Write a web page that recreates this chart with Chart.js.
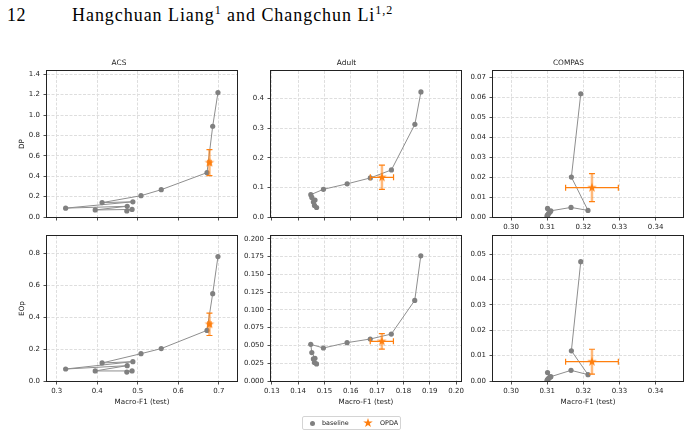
<!DOCTYPE html>
<html>
<head>
<meta charset="utf-8">
<script src="https://cdn.jsdelivr.net/npm/chart.js@4.4.0/dist/chart.umd.min.js"></script>
<style>
    body { margin: 0; background: #fff; width: 691px; height: 435px; position: relative; overflow: hidden; font-family: "DejaVu Sans", sans-serif; }
    canvas { position: absolute; }
    .head { position: absolute; top: 6px; font-family: "Liberation Serif", serif; font-size: 18px; line-height: 18px; color: #000; white-space: nowrap; }
    .head sup { font-size: 12px; line-height: 0; }
    #legend { position: absolute; left: 302px; top: 416px; width: 97px; height: 12px; border: 1px solid #d4d4d4; border-radius: 2px; font-size: 6.4px; color: #222; }
    #legend span, #legend svg { position: absolute; }
    #legend .dot { left: 7px; top: 4px; width: 5px; height: 5px; border-radius: 50%; background: #808080; }
    #legend .lbl { top: 2px; line-height: 8px; }
</style>
</head>
<body>
<div class="head" style="left:7px;letter-spacing:0.5px">12</div>
<div class="head" style="left:72px;letter-spacing:0.95px">Hangchuan Liang<sup>1</sup> and Changchun Li<sup>1,2</sup></div>

<canvas id="acsDP" width="242" height="175" style="left:0px;top:56px"></canvas>
<canvas id="adultDP" width="235" height="175" style="left:231px;top:56px"></canvas>
<canvas id="compasDP" width="235" height="175" style="left:453px;top:56px"></canvas>
<canvas id="acsEOp" width="242" height="190" style="left:0px;top:221px"></canvas>
<canvas id="adultEOp" width="235" height="190" style="left:231px;top:221px"></canvas>
<canvas id="compasEOp" width="235" height="190" style="left:453px;top:221px"></canvas>

<div id="legend">
    <span class="dot"></span><span class="lbl" style="left:19px">baseline</span>
    <svg width="10" height="10" style="left:60px;top:1px" viewBox="-5 -5 10 10"><polygon fill="#ff7f0e" points="0,-5 1.12,-1.54 4.76,-1.55 1.81,0.59 2.94,4.05 0,1.9 -2.94,4.05 -1.81,0.59 -4.76,-1.55 -1.12,-1.54"/></svg>
    <span class="lbl" style="left:77px">OPDA</span>
</div>

<script>
// baseline sweeps (Macro-F1 vs. fairness gap)
const acsF1 = [0.698, 0.685, 0.671, 0.558, 0.508, 0.412, 0.488, 0.322, 0.474, 0.395, 0.486, 0.473];
const acsDP = [1.22, 0.89, 0.435, 0.268, 0.209, 0.141, 0.149, 0.087, 0.105, 0.069, 0.074, 0.059];
const acsEOp = [0.779, 0.547, 0.317, 0.203, 0.171, 0.113, 0.121, 0.075, 0.096, 0.063, 0.063, 0.056];

const adultF1 = [0.1866, 0.1843, 0.1754, 0.1674, 0.1586, 0.1496, 0.1448, 0.1452, 0.1464, 0.1458, 0.1462, 0.1470];
const adultDP = [0.4225, 0.313, 0.159, 0.132, 0.112, 0.0935, 0.0755, 0.066, 0.057, 0.051, 0.039, 0.032];
const adultEOp = [0.176, 0.1133, 0.066, 0.059, 0.0539, 0.0464, 0.0515, 0.040, 0.032, 0.031, 0.026, 0.024];

const compasF1 = [0.3193, 0.3167, 0.3213, 0.3166, 0.3110, 0.3101, 0.3108, 0.3104, 0.3102, 0.3100, 0.3101, 0.3100];
const compasDP = [0.0618, 0.0200, 0.0033, 0.0048, 0.0031, 0.0043, 0.0025, 0.0018, 0.0012, 0.0008, 0.0004, 0.0002];
const compasEOp = [0.0470, 0.0119, 0.0025, 0.0042, 0.0017, 0.0033, 0.0015, 0.0010, 0.0007, 0.0004, 0.0002, 0.0001];

// OPDA (mean +- std), order: ACS, Adult, COMPAS
const opdaF1 = [0.677, 0.1718, 0.3224];
const opdaF1Err = [0.004, 0.0044, 0.0073];
const opdaDP = [0.533, 0.134, 0.0147];
const opdaDPErr = [0.127, 0.041, 0.007];
const opdaEOp = [0.355, 0.0557, 0.0076];
const opdaEOpErr = [0.07, 0.0108, 0.0049];

// tick labels
const acsXTicks = [0.3, 0.4, 0.5, 0.6, 0.7];
const adultXTicks = [0.13, 0.14, 0.15, 0.16, 0.17, 0.18, 0.19, 0.20];
const compasXTicks = [0.30, 0.31, 0.32, 0.33, 0.34];
const acsDPTicks = [0, 0.2, 0.4, 0.6, 0.8, 1.0, 1.2, 1.4];
const adultDPTicks = [0, 0.1, 0.2, 0.3, 0.4];
const compasDPTicks = [0, 0.01, 0.02, 0.03, 0.04, 0.05, 0.06, 0.07];
const acsEOpTicks = [0, 0.2, 0.4, 0.6, 0.8];
const adultEOpTicks = [0, 0.025, 0.05, 0.075, 0.1, 0.125, 0.15, 0.175, 0.2];
const compasEOpTicks = [0, 0.01, 0.02, 0.03, 0.04, 0.05];

Chart.defaults.font.family = 'DejaVu Sans';
Chart.defaults.font.size = 7;
Chart.defaults.color = '#222';

const ORANGE = '#ff7f0e';

function starImage(r) {
    const c = document.createElement('canvas');
    const size = Math.ceil(r * 2) + 2;
    c.width = c.height = size;
    const g = c.getContext('2d');
    g.fillStyle = ORANGE;
    g.beginPath();
    for (let i = 0; i < 10; i++) {
        const rad = i % 2 ? r * 0.38 : r;
        const a = -Math.PI / 2 + i * Math.PI / 5;
        g.lineTo(size / 2 + rad * Math.cos(a), size / 2 + rad * Math.sin(a));
    }
    g.closePath();
    g.fill();
    return c;
}
const star = starImage(5);

// black frame round the plot area
const framePlugin = {
    id: 'frame',
    afterDraw(chart) {
        const a = chart.chartArea;
        const ctx = chart.ctx;
        ctx.save();
        ctx.strokeStyle = '#222';
        ctx.lineWidth = 1;
        ctx.strokeRect(Math.round(a.left) - 0.5, Math.round(a.top) - 0.5,
            Math.round(a.right - a.left) + 1, Math.round(a.bottom - a.top) + 1);
        ctx.restore();
    }
};

// x / y error bars for the OPDA point
const errorBarPlugin = {
    id: 'errorBars',
    beforeDatasetDraw(chart, args) {
        const ds = chart.data.datasets[args.index];
        if (ds.xErr === undefined) return;
        const xs = chart.scales.x, ys = chart.scales.y, ctx = chart.ctx;
        const p = ds.data[0];
        const cx = xs.getPixelForValue(p.x), cy = ys.getPixelForValue(p.y);
        const xl = xs.getPixelForValue(p.x - ds.xErr), xr = xs.getPixelForValue(p.x + ds.xErr);
        const yt = ys.getPixelForValue(p.y + ds.yErr), yb = ys.getPixelForValue(p.y - ds.yErr);
        const cap = 3;
        ctx.save();
        ctx.lineCap = 'butt';
        // vertical
        ctx.strokeStyle = 'rgba(255,127,14,0.55)';
        ctx.lineWidth = 2.5;
        ctx.beginPath(); ctx.moveTo(cx, yt); ctx.lineTo(cx, yb); ctx.stroke();
        ctx.strokeStyle = ORANGE;
        ctx.lineWidth = 1.2;
        ctx.beginPath();
        ctx.moveTo(cx - cap, yt); ctx.lineTo(cx + cap, yt);
        ctx.moveTo(cx - cap, yb); ctx.lineTo(cx + cap, yb);
        // horizontal
        ctx.moveTo(xl, cy); ctx.lineTo(xr, cy);
        ctx.moveTo(xl, cy - cap); ctx.lineTo(xl, cy + cap);
        ctx.moveTo(xr, cy - cap); ctx.lineTo(xr, cy + cap);
        ctx.stroke();
        ctx.restore();
    }
};

function makePanel(id, cfg) {
    const pts = cfg.f1.map((v, i) => ({ x: v, y: cfg.gap[i] }));
    const bottomRow = cfg.row === 2;
    new Chart(document.getElementById(id), {
        type: 'scatter',
        data: {
            datasets: [{
                label: 'baseline',
                data: pts,
                showLine: true,
                borderColor: '#8e8e8e',
                borderWidth: 1,
                pointRadius: 2.6,
                pointBackgroundColor: '#808080',
                pointBorderWidth: 0,
                order: 2
            }, {
                label: 'OPDA',
                data: [{ x: cfg.opX, y: cfg.opY }],
                xErr: cfg.opXErr,
                yErr: cfg.opYErr,
                pointStyle: star,
                order: 1
            }]
        },
        options: {
            responsive: false,
            devicePixelRatio: 1,
            animation: false,
            layout: { padding: { left: 0, right: 4, top: bottomRow ? 15 : 0, bottom: 0 } },
            plugins: {
                legend: { display: false },
                tooltip: { enabled: false },
                title: {
                    display: !!cfg.title,
                    text: cfg.title,
                    color: '#222',
                    font: { size: 7.4, weight: 'normal', lineHeight: '10px' },
                    padding: { top: 2, bottom: 3 }
                }
            },
            scales: {
                x: {
                    type: 'linear',
                    min: cfg.xMin,
                    max: cfg.xMax,
                    afterBuildTicks: s => { s.ticks = cfg.xTicks.map(v => ({ value: v })); },
                    afterFit: s => { s.height = bottomRow ? 30 : 14; },
                    ticks: {
                        display: cfg.xLabels,
                        autoSkip: false,
                        maxRotation: 0,
                        padding: 2,
                        callback: v => v.toFixed(cfg.xDec)
                    },
                    grid: { color: '#dedede', tickColor: '#222', tickLength: 3.5, tickWidth: 0.8, tickBorderDash: [] },
                    border: { display: false, dash: [3, 1.5] },
                    title: {
                        display: bottomRow,
                        text: 'Macro-F1 (test)',
                        color: '#222',
                        font: { size: 7.2 },
                        padding: { top: 0, bottom: 4.7 }
                    }
                },
                y: {
                    type: 'linear',
                    min: 0,
                    max: cfg.yMax,
                    afterBuildTicks: s => { s.ticks = cfg.yTicks.map(v => ({ value: v })); },
                    afterFit: s => { s.width = cfg.yTitle ? 47 : 40; },
                    ticks: {
                        autoSkip: false,
                        padding: 3.5,
                        callback: v => v.toFixed(cfg.yDec)
                    },
                    grid: { color: '#dedede', tickColor: '#222', tickLength: 3.5, tickWidth: 0.8, tickBorderDash: [] },
                    border: { display: false, dash: [3, 1.5] },
                    title: {
                        display: !!cfg.yTitle,
                        text: cfg.yTitle,
                        color: '#222',
                        font: { size: 7.2 },
                        padding: { top: 17.7, bottom: 0 }
                    }
                }
            }
        },
        plugins: [errorBarPlugin, framePlugin]
    });
}

document.addEventListener('DOMContentLoaded', function () {
    // top row: DP
    makePanel('acsDP', {
        row: 1, title: 'ACS', yTitle: 'DP', f1: acsF1, gap: acsDP,
        opX: opdaF1[0], opXErr: opdaF1Err[0], opY: opdaDP[0], opYErr: opdaDPErr[0],
        xMin: 0.276, xMax: 0.745, xTicks: acsXTicks, xDec: 1, xLabels: false,
        yMax: 1.432, yTicks: acsDPTicks, yDec: 1
    });
    makePanel('adultDP', {
        row: 1, title: 'Adult', f1: adultF1, gap: adultDP,
        opX: opdaF1[1], opXErr: opdaF1Err[1], opY: opdaDP[1], opYErr: opdaDPErr[1],
        xMin: 0.1297, xMax: 0.2018, xTicks: adultXTicks, xDec: 2, xLabels: false,
        yMax: 0.493, yTicks: adultDPTicks, yDec: 1
    });
    makePanel('compasDP', {
        row: 1, title: 'COMPAS', f1: compasF1, gap: compasDP,
        opX: opdaF1[2], opXErr: opdaF1Err[2], opY: opdaDP[2], opYErr: opdaDPErr[2],
        xMin: 0.295, xMax: 0.3476, xTicks: compasXTicks, xDec: 2, xLabels: true,
        yMax: 0.0732, yTicks: compasDPTicks, yDec: 2
    });
    // bottom row: EOp
    makePanel('acsEOp', {
        row: 2, yTitle: 'EOp', f1: acsF1, gap: acsEOp,
        opX: opdaF1[0], opXErr: opdaF1Err[0], opY: opdaEOp[0], opYErr: opdaEOpErr[0],
        xMin: 0.276, xMax: 0.745, xTicks: acsXTicks, xDec: 1, xLabels: true,
        yMax: 0.908, yTicks: acsEOpTicks, yDec: 1
    });
    makePanel('adultEOp', {
        row: 2, f1: adultF1, gap: adultEOp,
        opX: opdaF1[1], opXErr: opdaF1Err[1], opY: opdaEOp[1], opYErr: opdaEOpErr[1],
        xMin: 0.1297, xMax: 0.2018, xTicks: adultXTicks, xDec: 2, xLabels: true,
        yMax: 0.2038, yTicks: adultEOpTicks, yDec: 3
    });
    makePanel('compasEOp', {
        row: 2, f1: compasF1, gap: compasEOp,
        opX: opdaF1[2], opXErr: opdaF1Err[2], opY: opdaEOp[2], opYErr: opdaEOpErr[2],
        xMin: 0.295, xMax: 0.3476, xTicks: compasXTicks, xDec: 2, xLabels: true,
        yMax: 0.0571, yTicks: compasEOpTicks, yDec: 2
    });
});
</script>
</body>
</html>
